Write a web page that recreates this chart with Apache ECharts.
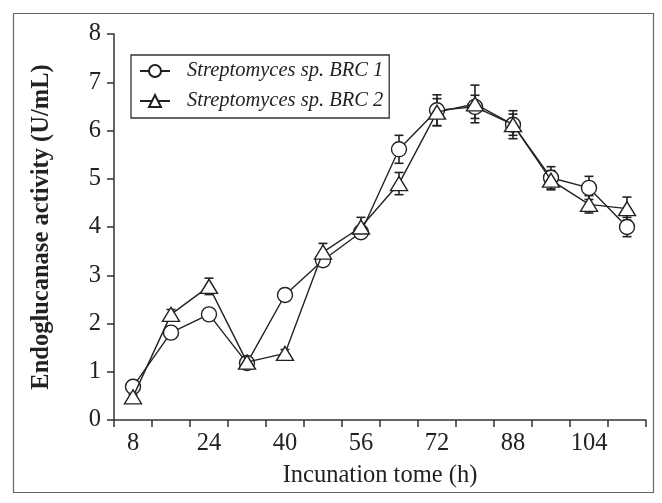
<!DOCTYPE html>
<html>
<head>
<meta charset="utf-8">
<script src="https://cdn.jsdelivr.net/npm/echarts@6/dist/echarts.min.js"></script>
<style>html,body{margin:0;padding:0;background:#fff}#c{width:662px;height:503px}</style>
</head>
<body>
<div id="c"></div>
<script>
const categories = ['8','16','24','32','40','48','56','64','72','80','88','96','104','112'];
const brc1 = [0.69, 1.81, 2.19, 1.18, 2.59, 3.31, 3.89, 5.61, 6.42, 6.49, 6.12, 5.02, 4.81, 4.00];
const brc2 = [0.48, 2.19, 2.77, 1.20, 1.38, 3.48, 4.00, 4.90, 6.38, 6.55, 6.12, 4.97, 4.47, 4.38];
const err1 = [0.05, 0.05, 0.10, 0.05, 0.12, 0.08, 0.10, 0.29, 0.32, 0.24, 0.29, 0.23, 0.24, 0.20];
const err2 = [0.05, 0.10, 0.17, 0.05, 0.08, 0.18, 0.20, 0.23, 0.28, 0.39, 0.22, 0.20, 0.18, 0.24];
const yTicks = [0,1,2,3,4,5,6,7,8];
const seriesNames = ['Streptomyces sp. BRC 1', 'Streptomyces sp. BRC 2'];

const FONT = 'Liberation Serif';
const INK = '#222';

function errData(vals, errs) {
  return vals.map((v, i) => [i, v - errs[i], v + errs[i]]);
}
function renderErr(params, api) {
  const x = api.value(0);
  const lo = api.coord([x, api.value(1)]);
  const hi = api.coord([x, api.value(2)]);
  const w = 4.5;
  const st = {stroke: INK, lineWidth: 1.6};
  return {
    type: 'group',
    children: [
      {type: 'line', shape: {x1: lo[0], y1: lo[1], x2: hi[0], y2: hi[1]}, style: st},
      {type: 'line', shape: {x1: hi[0]-w, y1: hi[1], x2: hi[0]+w, y2: hi[1]}, style: st},
      {type: 'line', shape: {x1: lo[0]-w, y1: lo[1], x2: lo[0]+w, y2: lo[1]}, style: st}
    ]
  };
}

const chart = echarts.init(document.getElementById('c'), null, {renderer: 'canvas'});
chart.setOption({
  animation: false,
  backgroundColor: '#fff',
  graphic: [{
    type: 'rect', left: 11, top: 11, silent: true, z: -10,
    shape: {width: 640, height: 479},
    style: {fill: 'none', stroke: '#666', lineWidth: 1.2}
  }],
  grid: {left: 114, right: 16, top: 34, bottom: 83},
  legend: {
    left: 131, top: 55, orient: 'vertical',
    padding: [6, 6, 7, 8], itemGap: 10,
    itemWidth: 30, itemHeight: 15,
    borderColor: '#333', borderWidth: 1.3,
    backgroundColor: '#fff',
    textStyle: {fontFamily: FONT, fontStyle: 'italic', fontSize: 20.5, color: INK, padding: [0,0,0,12]},
    data: seriesNames
  },
  xAxis: {
    type: 'category', data: categories, boundaryGap: true,
    name: 'Incunation tome (h)', nameLocation: 'middle', nameGap: 43,
    nameTextStyle: {fontFamily: FONT, fontSize: 24.5, color: INK},
    axisLine: {lineStyle: {color: '#333', width: 1.5}},
    axisTick: {show: true, interval: 0, length: 7, lineStyle: {color: '#333', width: 1.5}},
    axisLabel: {interval: 1, fontFamily: FONT, fontSize: 24.5, color: INK, margin: 11},
    splitLine: {show: false}
  },
  yAxis: {
    type: 'value', min: 0, max: 8, interval: 1,
    name: 'Endoglucanase activity (U/mL)', nameLocation: 'middle', nameGap: 60,
    nameTextStyle: {fontFamily: FONT, fontSize: 24.5, fontWeight: 'bold', color: INK},
    axisLine: {show: true, lineStyle: {color: '#333', width: 1.5}},
    axisTick: {show: true, length: 7, lineStyle: {color: '#333', width: 1.5}},
    axisLabel: {fontFamily: FONT, fontSize: 24.5, color: INK, margin: 13,
      formatter: v => yTicks.includes(v) ? String(v) : ''},
    splitLine: {show: false}
  },
  series: [
    {type: 'custom', renderItem: renderErr, data: errData(brc1, err1), z: 1, silent: true},
    {type: 'custom', renderItem: renderErr, data: errData(brc2, err2), z: 1, silent: true},
    {
      name: seriesNames[0], type: 'line', data: brc1, z: 3,
      symbol: 'circle', symbolSize: 15, showAllSymbol: true,
      lineStyle: {color: INK, width: 1.4},
      itemStyle: {color: '#fff', borderColor: INK, borderWidth: 1.4}
    },
    {
      name: seriesNames[1], type: 'line', data: brc2, z: 4,
      symbol: 'triangle', symbolSize: [17, 14], showAllSymbol: true,
      lineStyle: {color: INK, width: 1.4},
      itemStyle: {color: '#fff', borderColor: INK, borderWidth: 1.4}
    }
  ]
});
</script>
</body>
</html>
